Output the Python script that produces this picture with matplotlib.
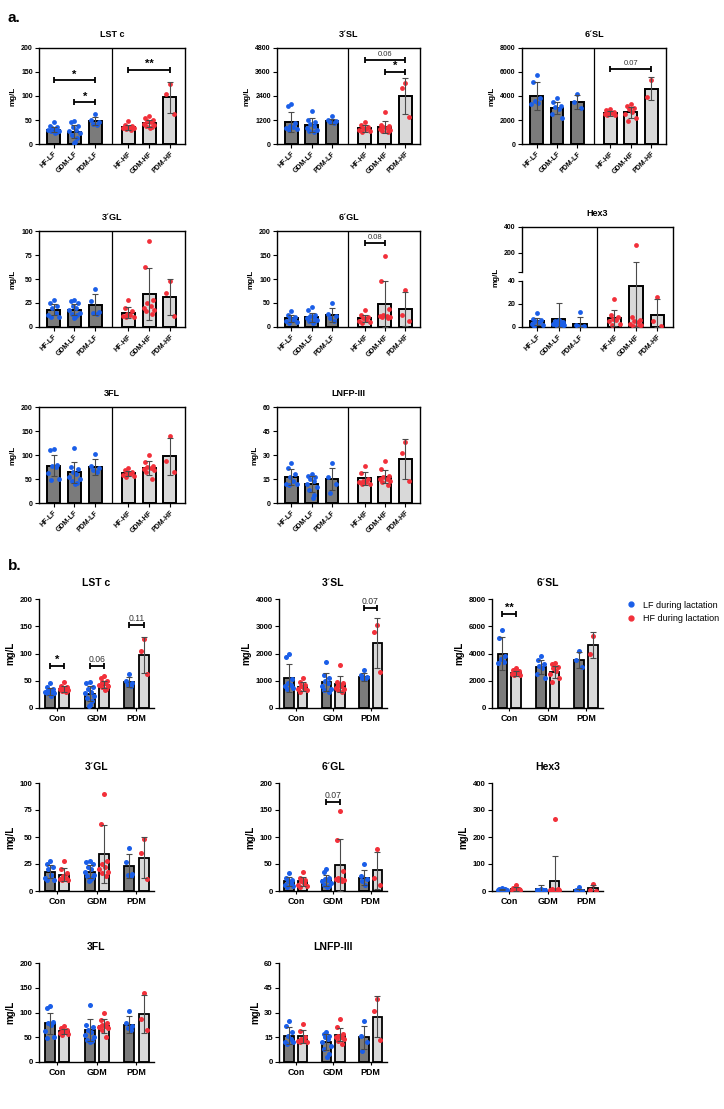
import numpy as np
import matplotlib
matplotlib.use('Agg')
import matplotlib.pyplot as plt
from matplotlib.lines import Line2D
from matplotlib.transforms import blended_transform_factory

plt.rcParams['font.family'] = ['Liberation Sans', 'DejaVu Sans']
plt.rcParams['font.weight'] = 'bold'

GROUPS_A = ['HF-LF', 'GDM-LF', 'PDM-LF', 'HF-HF', 'GDM-HF', 'PDM-HF']
GROUPS_B = ['Con', 'GDM', 'PDM']
LEGEND = ['LF during lactation', 'HF during lactation']
TITLES = ['LST c', '3´SL', '6´SL', '3´GL', '6´GL', 'Hex3', '3FL', 'LNFP-III']

LSTC_PTS = [[45, 38, 35, 33, 32, 30, 28, 27, 25, 22],
            [47, 46, 38, 35, 30, 28, 22, 18, 12, 5, 3],
            [63, 50, 45, 42, 40],
            [47, 40, 38, 36, 35, 34, 33, 32, 30],
            [58, 55, 50, 48, 45, 42, 40, 38, 35, 33],
            [126, 105, 62]]
LSTC_MEAN = [30, 26, 48, 35, 43, 97]
LSTC_SD = [6, 14, 9, 5, 7, 33]

SL3_PTS = [[1980, 1880, 1050, 900, 850, 800, 750, 700],
           [1670, 1200, 1100, 1000, 900, 800, 700, 650, 600],
           [1380, 1200, 1150, 1100, 1050],
           [1100, 950, 850, 800, 750, 700, 650, 600],
           [1580, 950, 900, 850, 800, 750, 700, 650, 600],
           [3050, 2800, 1330]]
SL3_MEAN = [1100, 950, 1130, 780, 870, 2400]
SL3_SD = [500, 330, 140, 170, 300, 920]

SL6_PTS = [[5750, 5150, 3800, 3600, 3400, 3300],
           [3800, 3500, 3200, 3100, 2900, 2500, 2200],
           [4200, 3500, 3000],
           [2900, 2800, 2700, 2600, 2550, 2500, 2450, 2400],
           [3300, 3200, 3000, 2900, 2700, 2500, 2200, 1900],
           [5300, 3950]]
SL6_MEAN = [4000, 3000, 3500, 2550, 2650, 4600]
SL6_SD = [1200, 500, 600, 200, 450, 950]

GL3_PTS = [[28, 25, 22, 20, 15, 12, 10, 10],
           [28, 27, 25, 22, 20, 18, 15, 14, 12, 10, 9],
           [40, 27, 16, 15, 14],
           [28, 20, 17, 14, 12, 11, 10, 10],
           [90, 62, 28, 25, 22, 20, 18, 17, 14],
           [48, 35, 11]]
GL3_MEAN = [18, 18, 23, 15, 34, 31]
GL3_SD = [6, 6, 11, 6, 27, 19]

GL6_PTS = [[34, 25, 20, 18, 15, 12, 10, 8],
           [41, 35, 25, 22, 20, 18, 15, 12, 10, 8],
           [50, 28, 22, 18, 12],
           [35, 25, 20, 18, 15, 12, 10, 8],
           [148, 95, 37, 25, 23, 22, 21, 20, 19],
           [78, 25, 12]]
GL6_MEAN = [18, 20, 25, 18, 48, 38]
GL6_SD = [8, 10, 14, 8, 48, 35]

HEX3_PTS = [[12, 7, 6, 5, 4, 3, 2, 1],
            [6, 5, 4, 4, 3, 3, 2, 2, 1],
            [13, 2, 1, 0.5, 0],
            [24, 10, 9, 7, 6, 5, 3, 2],
            [265, 9, 6, 5, 4, 3, 2, 1, 0.5],
            [26, 5, 0.5]]
HEX3_MEAN = [5, 7, 3, 8, 36, 10]
HEX3_SD = [3, 14, 5.5, 7, 95, 14]

FL3_PTS = [[113, 110, 80, 78, 75, 62, 50, 48],
           [115, 75, 70, 65, 60, 55, 50, 45, 42, 40],
           [103, 78, 72, 68, 65],
           [72, 68, 65, 62, 60, 58, 57, 55],
           [100, 85, 78, 75, 72, 70, 68, 65, 50],
           [140, 87, 64]]
FL3_MEAN = [78, 64, 75, 62, 73, 97]
FL3_SD = [22, 22, 17, 5, 14, 39]

LNFP_PTS = [[25, 22, 18, 16, 14, 12, 12, 11],
            [18, 17, 16, 15, 14, 12, 10, 8, 5, 3],
            [25, 16, 12, 6.5],
            [23, 19, 15, 14, 13, 13, 12, 12],
            [26, 21, 17, 16, 15, 15, 14, 13, 11],
            [38, 31, 13.5]]
LNFP_MEAN = [16, 12, 15, 15.5, 16.5, 27.5]
LNFP_SD = [5, 5, 7, 4, 4, 12.5]

# y-axis top and tick step (panel a, panel b)
YMAX_A = [200, 4800, 8000, 100, 200, 400, 200, 60]
YSTEP_A = [50, 1200, 2000, 25, 50, None, 50, 15]
YMAX_B = [200, 4000, 8000, 100, 200, 400, 200, 60]
YSTEP_B = [50, 1000, 2000, 25, 50, 100, 50, 15]

# significance: (panel index, group i, group j, y, label)
SIG_A = [(0, 0, 2, 133, '*'), (0, 1, 2, 87, '*'), (0, 3, 5, 155, '**'),
         (1, 3, 5, 4180, '0.06'), (1, 4, 5, 3620, '*'),
         (2, 3, 5, 6250, '0.07'), (4, 3, 4, 174, '0.08')]
# (panel index, group, y, label)
SIG_B = [(0, 0, 77, '*'), (0, 1, 77, '0.06'), (0, 2, 152, '0.11'),
         (1, 2, 3670, '0.07'), (2, 0, 6900, '**'), (4, 1, 165, '0.07')]

PTS = [LSTC_PTS, SL3_PTS, SL6_PTS, GL3_PTS, GL6_PTS, HEX3_PTS, FL3_PTS, LNFP_PTS]
MEANS = [LSTC_MEAN, SL3_MEAN, SL6_MEAN, GL3_MEAN, GL6_MEAN, HEX3_MEAN, FL3_MEAN, LNFP_MEAN]
SDS = [LSTC_SD, SL3_SD, SL6_SD, GL3_SD, GL6_SD, HEX3_SD, FL3_SD, LNFP_SD]

DARK = '#7b7b7b'
LIGHT = '#d9d9d9'
BLUE = '#1a5ee8'
RED = '#f2303a'
ERRC = '#4a4a4a'
JIT = np.array([0, -0.6, 0.6, -0.3, 0.3, -0.85, 0.85, -0.45, 0.45, 0.15, -0.15, 0.7])

W, H = 724, 1109
fig = plt.figure(figsize=(W / 100, H / 100), dpi=100)


def make_ax(l, t, r, b):
    return fig.add_axes([l / W, 1 - b / H, (r - l) / W, (b - t) / H])


def bracket(ax, x1, x2, y, label, numsize=5.5):
    ax.plot([x1, x2], [y, y], color='k', lw=1.3, marker='|', markersize=5,
            mew=1.3, zorder=6, clip_on=False, solid_capstyle='butt')
    if label.startswith('*'):
        ax.annotate(label, (0.5 * (x1 + x2), y), xytext=(0, 0.5),
                    textcoords='offset points', ha='center', va='bottom',
                    fontsize=8, fontweight='bold', color='k')
    else:
        ax.annotate(label, (0.5 * (x1 + x2), y), xytext=(0, 1.5),
                    textcoords='offset points', ha='center', va='bottom',
                    fontsize=numsize, fontweight='normal', color='#333333')


def style_ticks(ax, size):
    ax.tick_params(axis='both', direction='out', length=3, width=0.8,
                   labelsize=size, pad=1.5)
    for lab in ax.get_yticklabels():
        lab.set_fontweight('bold')


POS_A = [0, 1, 2, 3.6, 4.6, 5.6]
SEP_A = 2.8

A_ROWS = [(48, 144), (231, 327), (407, 503)]
A_COLS = [(39, 185), (277, 420), (522, 666)]
B_ROWS = [(599, 708), (783, 891), (963, 1062)]
B_COLS = [(39, 154), (279, 387), (492, 603)]

# ---------------- panel a ----------------
for k in range(8):
    r, c = divmod(k, 3)
    top, bot = A_ROWS[r]
    left, right = A_COLS[c]
    if k == 5:
        top, right = 227, 673
    ax = make_ax(left, top, right, bot)
    if k == 5:
        kx = [0, 40, 50, 400]
        ky = [0, 46, 54.5, 100]
        ax.set_yscale('function', functions=(lambda v: np.interp(v, kx, ky),
                                             lambda v: np.interp(v, ky, kx)))
    for g in range(6):
        col = DARK if g < 3 else LIGHT
        dot = BLUE if g < 3 else RED
        ax.bar(POS_A[g], MEANS[k][g], width=0.63, color=col, edgecolor='k',
               linewidth=1.4, zorder=2)
        pts = np.array(PTS[k][g], dtype=float)
        xs = POS_A[g] + JIT[:len(pts)] * 0.3
        ax.scatter(xs, pts, s=12, color=dot, zorder=3, linewidths=0)
        ax.errorbar(POS_A[g], MEANS[k][g], yerr=SDS[k][g], fmt='none',
                    ecolor=ERRC, elinewidth=0.8, capsize=2.5, capthick=0.8,
                    zorder=4)
    ax.axvline(SEP_A, color='k', lw=0.9, zorder=1)
    ax.set_xlim(-0.71, 6.33)
    ax.set_ylim(0, YMAX_A[k])
    if k == 5:
        ax.set_yticks([0, 20, 40, 200, 400])
        ax.set_yticks([50], minor=True)
        ax.spines['left'].set_visible(False)
        tr = blended_transform_factory(ax.transAxes, ax.transData)
        ax.plot([0, 0], [0, 40], color='k', lw=1.0, transform=tr, clip_on=False)
        ax.plot([0, 0], [50, 400], color='k', lw=1.0, transform=tr, clip_on=False)
        ax.tick_params(axis='y', which='minor', direction='out', length=3, width=0.8)
    else:
        ax.set_yticks(np.arange(0, YMAX_A[k] + 1, YSTEP_A[k]))
    ax.set_xticks(POS_A)
    ax.set_xticklabels(GROUPS_A, rotation=45, ha='right', rotation_mode='anchor',
                       fontsize=4.8, fontweight='bold')
    for sp in ax.spines.values():
        sp.set_linewidth(1.0)
    style_ticks(ax, 5)
    ax.set_title(TITLES[k], fontsize=6.5, fontweight='bold', pad=8)
    ax.set_ylabel('mg/L', fontsize=5.8, fontweight='bold', labelpad=3)

    for (p, i, j, y, lab) in SIG_A:
        if p == k:
            bracket(ax, POS_A[i], POS_A[j], y, lab)

fig.text(8 / W, 1 - 18 / H, 'a.', fontsize=11, fontweight='bold', va='center')
fig.text(8 / W, 1 - 566 / H, 'b.', fontsize=11, fontweight='bold', va='center')

# ---------------- panel b ----------------
OFF_B = 0.18
for k in range(8):
    r, c = divmod(k, 3)
    top, bot = B_ROWS[r]
    left, right = B_COLS[c]
    ax = make_ax(left, top, right, bot)
    for gi in range(3):
        for s in range(2):
            g = gi + 3 * s
            x = gi + (-OFF_B if s == 0 else OFF_B)
            col = DARK if s == 0 else LIGHT
            dot = BLUE if s == 0 else RED
            ax.bar(x, MEANS[k][g], width=0.25, color=col, edgecolor='k',
                   linewidth=1.3, zorder=2)
            pts = np.array(PTS[k][g], dtype=float)
            xs = x + JIT[:len(pts)] * 0.13
            ax.scatter(xs, pts, s=13, color=dot, zorder=3, linewidths=0)
            ax.errorbar(x, MEANS[k][g], yerr=SDS[k][g], fmt='none',
                        ecolor=ERRC, elinewidth=0.8, capsize=2.2, capthick=0.8,
                        zorder=4)
    ax.set_xlim(-0.45, 2.44)
    ax.set_ylim(0, YMAX_B[k])
    ax.set_yticks(np.arange(0, YMAX_B[k] + 1, YSTEP_B[k]))
    ax.set_xticks(range(3))
    ax.set_xticklabels(GROUPS_B, fontweight='bold')
    ax.spines['top'].set_visible(False)
    ax.spines['right'].set_visible(False)
    for sp in ('left', 'bottom'):
        ax.spines[sp].set_linewidth(1.0)
    style_ticks(ax, 5.6)
    ax.tick_params(axis='x', labelsize=6.4, length=2, pad=2)
    ax.set_title(TITLES[k], fontsize=7.5, fontweight='bold', pad=9)
    ax.set_ylabel('mg/L', fontsize=7, fontweight='bold', labelpad=3)
    for (p, gi, y, lab) in SIG_B:
        if p == k:
            bracket(ax, gi - OFF_B, gi + OFF_B, y, lab, numsize=6.2)
    if k == 2:
        handles = [Line2D([], [], marker='o', ls='none', color=BLUE, markersize=3.5),
                   Line2D([], [], marker='o', ls='none', color=RED, markersize=3.5)]
        fig.legend(handles, LEGEND, loc='upper left',
                   bbox_to_anchor=(622 / W, 1 - 596 / H), frameon=False,
                   prop={'size': 6.5, 'weight': 'normal'}, handlelength=1.0,
                   handletextpad=0.8, labelspacing=0.55, borderpad=0)

fig.savefig('out.png', dpi=100)
